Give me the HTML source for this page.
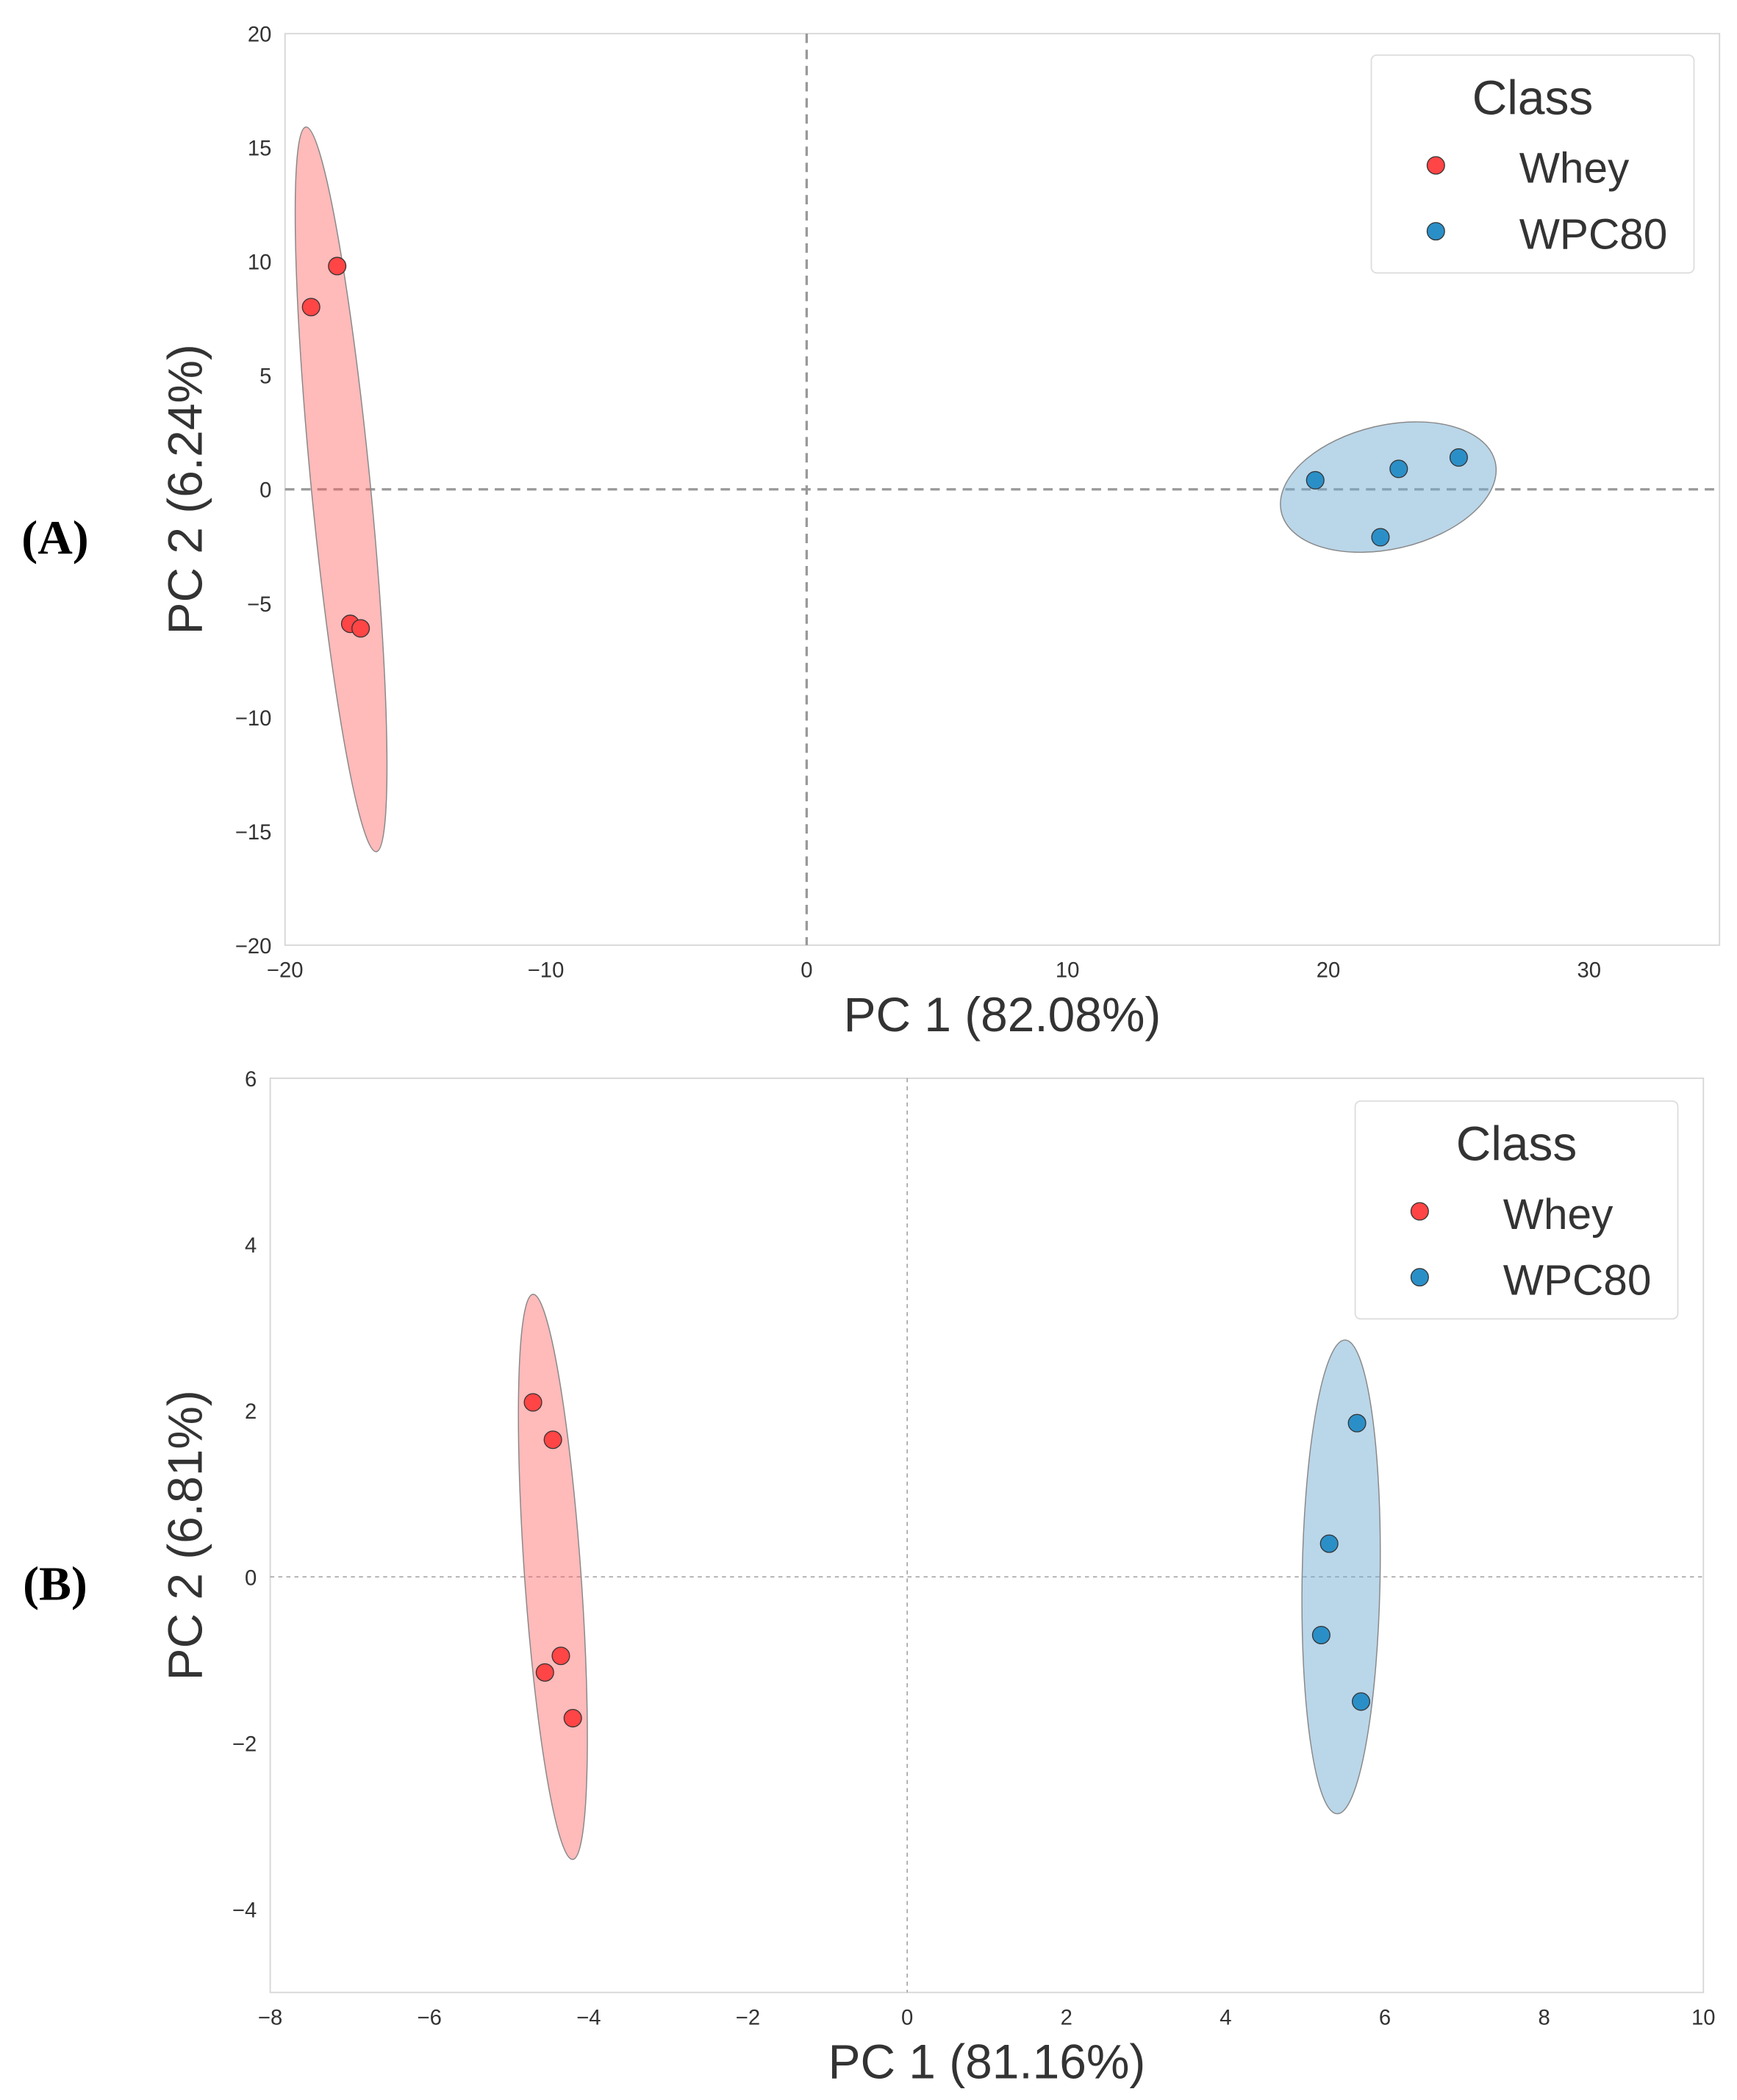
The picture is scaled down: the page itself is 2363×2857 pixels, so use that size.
<!DOCTYPE html>
<html><head><meta charset="utf-8"><style>
html,body{margin:0;padding:0;background:#fff}
svg{display:block}
text{font-family:"Liberation Sans",sans-serif;fill:#333}
</style></head><body>
<svg id="fig" width="2363" height="2857" viewBox="0 0 1292 1562" preserveAspectRatio="none" xmlns="http://www.w3.org/2000/svg"></svg>
<script>
// Panel A data
const aWheyX = [-19, -18, -17.5, -17.1];
const aWheyY = [8, 9.8, -5.9, -6.1];
const aWpcX = [19.5, 22.7, 25, 22];
const aWpcY = [0.4, 0.9, 1.4, -2.1];
const aXTicks = [-20, -10, 0, 10, 20, 30];
const aYTicks = [-20, -15, -10, -5, 0, 5, 10, 15, 20];
// Panel B data
const bWheyX = [-4.7, -4.45, -4.35, -4.55, -4.2];
const bWheyY = [2.1, 1.65, -0.95, -1.15, -1.7];
const bWpcX = [5.65, 5.3, 5.2, 5.7];
const bWpcY = [1.85, 0.4, -0.7, -1.5];
const bXTicks = [-8, -6, -4, -2, 0, 2, 4, 6, 8, 10];
const bYTicks = [-4, -2, 0, 2, 4, 6];

const NS = "http://www.w3.org/2000/svg";
const svg = document.getElementById('fig');
function el(tag, attrs, parent, txt) {
  const e = document.createElementNS(NS, tag);
  for (const k in attrs) e.setAttribute(k, attrs[k]);
  if (txt !== undefined) e.textContent = txt;
  (parent || svg).appendChild(e);
  return e;
}

function panel(cfg) {
  const g = el('g', {});
  
  
  const sx = v => cfg.L + (v - cfg.x0) / (cfg.x1 - cfg.x0) * (cfg.R - cfg.L);
  const sy = v => cfg.B - (v - cfg.y0) / (cfg.y1 - cfg.y0) * (cfg.B - cfg.T);
  const frame = el('rect', {x: cfg.L, y: cfg.T, width: cfg.R - cfg.L, height: cfg.B - cfg.T, fill: '#fff', stroke: '#d6d6d6', 'stroke-width': 1}, g);
  
  
  const dw = cfg.thin ? 0.8 : 1.8, da = cfg.thin ? '3,3' : '7,5';
  const vl = el('line', {x1: sx(0), x2: sx(0), y1: cfg.T, y2: cfg.B, stroke: '#999', 'stroke-width': dw, 'stroke-dasharray': da}, g);
  
  
  const hl = el('line', {x1: cfg.L, x2: cfg.R, y1: sy(0), y2: sy(0), stroke: '#999', 'stroke-width': dw, 'stroke-dasharray': da}, g);
  
  
  cfg.xt.forEach(t => {
    const tx = el('text', {x: sx(t), y: cfg.B + 24, 'font-size': 16, 'text-anchor': 'middle'}, g, t < 0 ? '\u2212' + (-t) : t);
    
    
  });
  cfg.yt.forEach(t => {
    const tx = el('text', {x: cfg.L - 10, y: sy(t) + 6, 'font-size': 16, 'text-anchor': 'end'}, g, t < 0 ? '\u2212' + (-t) : t);
    
    
  });
  cfg.ells.forEach(e => {
    const cx = sx(e.cx), cy = sy(e.cy), tx = sx(e.tx), ty = sy(e.ty);
    const rx = Math.hypot(tx - cx, ty - cy);
    const ang = Math.atan2(ty - cy, tx - cx) * 180 / Math.PI;
    const ee = el('ellipse', {cx: cx, cy: cy, rx: rx, ry: e.ry, fill: e.fill, stroke: '#888', 'stroke-width': 0.8, transform: `rotate(${ang} ${cx} ${cy})`}, g);
    
    
  });
  const pts = (xs, ys, col, name) => xs.forEach((x, i) => {
    const c = el('circle', {cx: sx(x), cy: sy(ys[i]), r: 6.5, fill: col, stroke: '#333', 'stroke-width': 0.7}, g);
    
    
  });
  pts(cfg.wx, cfg.wy, '#ff4545', 'whey-point');
  pts(cfg.px, cfg.py, '#2b8fc7', 'wpc80-point');
  const xl = el('text', {x: (cfg.L + cfg.R) / 2, y: cfg.B + 64, 'font-size': 36, 'text-anchor': 'middle'}, g, cfg.xlab);
  
  
  const ycx = 150, ycy = (cfg.T + cfg.B) / 2;
  const yl = el('text', {x: ycx, y: ycy, 'font-size': 36, 'text-anchor': 'middle', transform: `rotate(-90 ${ycx} ${ycy})`}, g, cfg.ylab);
  
  
  const pl = el('text', {x: 41, y: cfg.plY, 'font-size': 36, 'font-weight': 'bold', 'text-anchor': 'middle', style: 'font-family:"Liberation Serif",serif;fill:#000'}, g, cfg.plab);
  
  
  const lg = el('g', {transform: `translate(${cfg.lx} ${cfg.ly})`}, g);
  
  
  el('rect', {x: 0, y: 0, width: 240, height: 162, rx: 4, fill: '#fff', stroke: '#ddd', 'stroke-width': 1}, lg);
  const lt = el('text', {x: 120, y: 44, 'font-size': 36, 'text-anchor': 'middle'}, lg, 'Class');
  
  
  [['Whey', '#ff4545', 82], ['WPC80', '#2b8fc7', 131]].forEach(([n, c, y]) => {
    const ge = el('g', {}, lg);
    
    
    el('circle', {cx: 48, cy: y, r: 6.5, fill: c, stroke: '#333', 'stroke-width': 0.7}, ge);
    el('text', {x: 110, y: y + 13, 'font-size': 32}, ge, n);
  });
}

panel({name: 'panel-a', L: 212, R: 1279, T: 25, B: 703, x0: -20, x1: 35, y0: -20, y1: 20,
  xt: aXTicks, yt: aYTicks, wx: aWheyX, wy: aWheyY, px: aWpcX, py: aWpcY,
  xlab: 'PC 1 (82.08%)', ylab: 'PC 2 (6.24%)', plab: '(A)', plY: 412, lx: 1020, ly: 41,
  ells: [
    {name: 'whey-ellipse', cx: -17.85, cy: 0, tx: -19.2, ty: 15.9, ry: 22, fill: 'rgba(255,90,90,0.42)'},
    {name: 'wpc80-ellipse', cx: 22.3, cy: 0.1, tx: 26.4, ty: 1.2, ry: 46, fill: 'rgba(110,170,210,0.48)'}
  ]});
panel({name: 'panel-b', L: 201, R: 1267, T: 802, B: 1482, x0: -8, x1: 10, y0: -5, y1: 6, thin: true,
  xt: bXTicks, yt: bYTicks, wx: bWheyX, wy: bWheyY, px: bWpcX, py: bWpcY,
  xlab: 'PC 1 (81.16%)', ylab: 'PC 2 (6.81%)', plab: '(B)', plY: 1190, lx: 1008, ly: 819,
  ells: [
    {name: 'whey-ellipse', cx: -4.45, cy: 0, tx: -4.7, ty: 3.4, ry: 21, fill: 'rgba(255,90,90,0.42)'},
    {name: 'wpc80-ellipse', cx: 5.45, cy: 0, tx: 5.5, ty: 2.85, ry: 29, fill: 'rgba(110,170,210,0.48)'}
  ]});
</script>
</body></html>
